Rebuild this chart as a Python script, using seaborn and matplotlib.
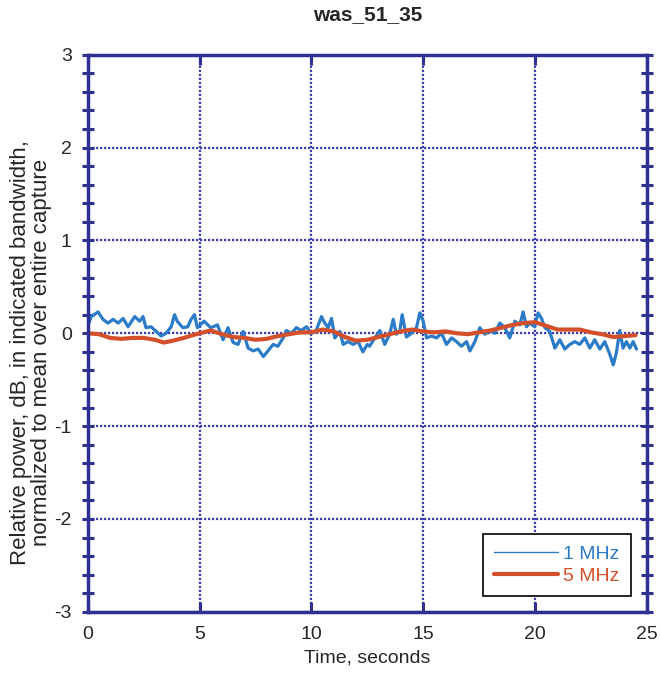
#!/usr/bin/env python

import numpy as np
import pandas as pd
import matplotlib
matplotlib.use('Agg')
import matplotlib.pyplot as plt
from matplotlib.ticker import MultipleLocator
import seaborn as sns

# 1 MHz bandwidth trace (time in s, relative power in dB)
t_1mhz = [0.01, 0.16, 0.46, 0.68, 0.90, 1.13, 1.36, 1.58, 1.80, 2.10,
          2.32, 2.47, 2.60, 2.83, 3.06, 3.28, 3.50, 3.73, 3.88, 4.00,
          4.25, 4.47, 4.62, 4.77, 4.90, 5.20, 5.50, 5.80, 6.05, 6.27,
          6.50, 6.72, 6.95, 7.17, 7.40, 7.62, 7.85, 8.06, 8.29, 8.50,
          8.74, 8.88, 9.10, 9.33, 9.55, 9.78, 10.00, 10.20, 10.45, 10.60,
          10.75, 10.90, 11.05, 11.27, 11.42, 11.64, 11.87, 12.09, 12.30, 12.50,
          12.60, 12.84, 13.06, 13.28, 13.50, 13.66, 13.80, 13.95, 14.06, 14.25,
          14.48, 14.70, 14.85, 15.00, 15.15, 15.37, 15.60, 15.82, 16.04, 16.27,
          16.49, 16.71, 16.94, 17.09, 17.31, 17.53, 17.76, 17.98, 18.20, 18.43,
          18.65, 18.87, 19.10, 19.32, 19.47, 19.62, 19.77, 19.99, 20.14, 20.29,
          20.44, 20.66, 20.89, 21.11, 21.33, 21.56, 21.78, 22.00, 22.23, 22.45,
          22.67, 22.90, 23.12, 23.35, 23.50, 23.64, 23.79, 23.94, 24.09, 24.24,
          24.39, 24.54]
p_1mhz = [0.09, 0.18, 0.23, 0.15, 0.11, 0.15, 0.11, 0.16, 0.07, 0.18,
          0.13, 0.18, 0.06, 0.07, 0.02, -0.03, 0.00, 0.07, 0.20, 0.13,
          0.06, 0.07, 0.15, 0.20, 0.06, 0.13, 0.06, 0.09, -0.07, 0.06,
          -0.10, -0.12, 0.02, -0.16, -0.19, -0.17, -0.25, -0.19, -0.12, -0.14,
          -0.05, 0.03, 0.00, 0.06, 0.03, 0.07, 0.00, 0.02, 0.18, 0.11,
          0.06, 0.16, -0.05, 0.02, -0.12, -0.09, -0.12, -0.09, -0.20, -0.12,
          -0.14, -0.05, 0.03, -0.12, -0.01, 0.15, -0.01, 0.02, 0.20, -0.04,
          0.00, 0.06, 0.22, 0.13, -0.05, -0.03, -0.05, 0.00, -0.12, -0.05,
          -0.09, -0.14, -0.09, -0.19, -0.09, 0.06, -0.01, 0.03, 0.00, 0.11,
          0.06, -0.05, 0.13, 0.09, 0.23, 0.07, 0.11, 0.07, 0.22, 0.16,
          0.06, 0.02, -0.16, -0.07, -0.17, -0.12, -0.09, -0.12, -0.05, -0.16,
          -0.07, -0.17, -0.09, -0.23, -0.34, -0.21, 0.03, -0.16, -0.09, -0.16,
          -0.09, -0.17]

# 5 MHz bandwidth trace
t_5mhz = [0.0, 0.5, 1.0, 1.5, 2.0, 2.5, 3.0, 3.4, 3.8, 4.3,
          4.7, 5.0, 5.5, 6.0, 6.5, 7.0, 7.5, 8.0, 8.5, 9.0,
          9.5, 10.0, 10.5, 11.0, 11.5, 12.0, 12.5, 13.0, 13.5, 14.0,
          14.5, 15.0, 15.5, 16.0, 16.5, 17.0, 17.5, 18.0, 18.5, 19.0,
          19.5, 20.0, 20.5, 21.0, 21.5, 22.0, 22.5, 23.0, 23.5, 24.0,
          24.5]
p_5mhz = [0.00, -0.01, -0.05, -0.06, -0.05, -0.05, -0.07, -0.10, -0.08, -0.05,
          -0.02, 0.00, 0.03, -0.01, -0.04, -0.05, -0.07, -0.06, -0.03, -0.01,
          0.01, 0.01, 0.04, 0.02, -0.04, -0.08, -0.07, -0.04, -0.01, 0.02,
          0.04, 0.02, 0.01, 0.02, 0.00, -0.01, 0.01, 0.03, 0.06, 0.09,
          0.11, 0.12, 0.08, 0.04, 0.04, 0.04, 0.01, -0.01, -0.04, -0.03,
          -0.02]

x_ticks = [0, 5, 10, 15, 20, 25]
y_ticks = [-3, -2, -1, 0, 1, 2, 3]

sns.set_style('white')
plt.rcParams['font.family'] = ['Liberation Sans', 'DejaVu Sans']
plt.rcParams['axes.unicode_minus'] = False

navy = '#2e3192'
blue = '#2b7bc9'
red = '#d4502a'

fig = plt.figure(figsize=(6.6, 6.76), dpi=100)
ax = fig.add_axes([0.133, 0.095, 0.847, 0.824])

df1 = pd.DataFrame({'t': t_1mhz, 'p': p_1mhz})
df5 = pd.DataFrame({'t': t_5mhz, 'p': p_5mhz})
sns.lineplot(data=df1, x='t', y='p', ax=ax, color=blue, linewidth=2.3,
             label='1 MHz', estimator=None)
sns.lineplot(data=df5, x='t', y='p', ax=ax, color=red, linewidth=3.0,
             label='5 MHz', estimator=None)

ax.set_xlim(0, 25)
ax.set_ylim(-3, 3)
ax.set_xticks(x_ticks)
ax.set_yticks(y_ticks)
ax.yaxis.set_minor_locator(MultipleLocator(0.2))
ax.grid(True, which='major', color='#3c3cb4', linestyle=(0, (1, 0.8)), linewidth=1.6)
ax.set_axisbelow(True)

for s in ax.spines.values():
    s.set_color(navy)
    s.set_linewidth(2.5)

ax.tick_params(axis='x', which='major', direction='in', top=True, bottom=True,
               length=7, width=2.2, color=navy, labelsize=14, pad=10)
ax.tick_params(axis='y', which='both', direction='inout', left=True, right=True,
               length=9, width=2.2, color=navy, labelsize=14, pad=7)

ax.set_xlabel('Time, seconds', fontsize=14, labelpad=5)
ax.set_ylabel('Relative power, dB, in indicated bandwidth,\n'
              'normalized to mean over entire capture', fontsize=16,
              linespacing=1.0)
ax.yaxis.set_label_coords(-0.064, 0.465)
ax.set_title('was_51_35', fontsize=15, fontweight='bold', pad=25)

leg = ax.legend(loc='lower right', fontsize=14, frameon=True, fancybox=False,
                edgecolor='black', framealpha=1, labelcolor='linecolor',
                handlelength=3.3, borderaxespad=0.8, handletextpad=0.25,
                labelspacing=0.2, borderpad=0.6)
leg.get_frame().set_linewidth(1.2)
leg.get_lines()[0].set_linewidth(1.0)

fig.savefig('out.png', dpi=100)
